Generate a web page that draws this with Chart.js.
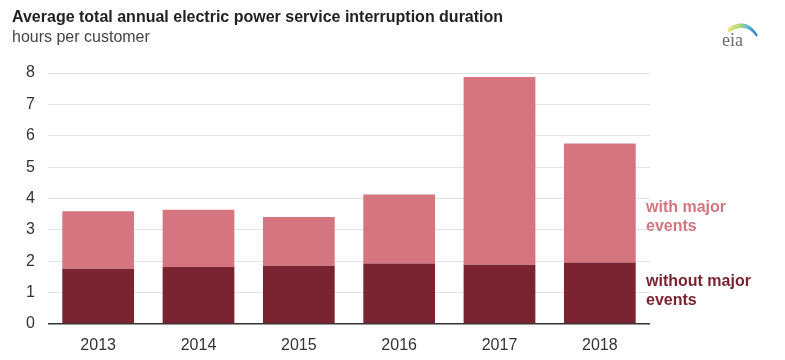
<!DOCTYPE html>
<html>
<head>
<meta charset="utf-8">
<script src="https://cdn.jsdelivr.net/npm/chart.js@4/dist/chart.umd.min.js"></script>
<style>
  body { margin: 0; background: #fff; }
  #wrap { width: 785px; height: 360px; position: relative; }
</style>
</head>
<body>
<div id="wrap"><canvas id="outageChart" width="785" height="360"></canvas></div>
<script>
const years = ["2013", "2014", "2015", "2016", "2017", "2018"];
// hours per customer
const withoutMajor = [1.76, 1.82, 1.86, 1.93, 1.89, 1.96];
const majorExtra = [1.83, 1.82, 1.55, 2.20, 5.98, 3.79]; // total minus "without"
const yTicks = [0, 1, 2, 3, 4, 5, 6, 7, 8];

const darkRed = "#7a2431";
const lightRed = "#d47580";
const font = "'Liberation Sans', Arial, sans-serif";

// title, subtitle, logo and the two side labels
const decorations = {
    id: "decorations",
    afterDraw(chart) {
        const ctx = chart.ctx;
        ctx.save();
        ctx.textBaseline = "alphabetic";
        ctx.textAlign = "left";
        ctx.fillStyle = "#222";
        ctx.font = "bold 16px " + font;
        ctx.fillText("Average total annual electric power service interruption duration", 12, 22);
        ctx.fillStyle = "#444";
        ctx.font = "16px " + font;
        ctx.fillText("hours per customer", 12, 42);

        // eia logo
        ctx.font = "18px 'Liberation Serif', serif";
        ctx.fillStyle = "#6a6a78";
        ctx.fillText("eia", 722, 46);
        const grad = ctx.createLinearGradient(728, 0, 757, 0);
        grad.addColorStop(0, "#ece27a");
        grad.addColorStop(0.4, "#a2cf5e");
        grad.addColorStop(0.7, "#4ab4dc");
        grad.addColorStop(1, "#2a78c0");
        ctx.strokeStyle = grad;
        ctx.lineWidth = 1.3;
        [0, 1.5, 3].forEach((d) => {
            ctx.beginPath();
            ctx.moveTo(728, 29 + d);
            ctx.quadraticCurveTo(746, 17 + d, 757, 35 + d * 0.5);
            ctx.stroke();
        });

        ctx.font = "bold 16px " + font;
        ctx.fillStyle = lightRed;
        ctx.fillText("with major", 646, 212);
        ctx.fillText("events", 646, 231);
        ctx.fillStyle = darkRed;
        ctx.fillText("without major", 646, 286);
        ctx.fillText("events", 646, 305);
        ctx.restore();
    }
};

const ctx = document.getElementById("outageChart").getContext("2d");
const outageChart = new Chart(ctx, {
    type: "bar",
    data: {
        labels: years,
        datasets: [
            {
                label: "without major events",
                data: withoutMajor,
                backgroundColor: darkRed,
                barPercentage: 0.715,
                categoryPercentage: 1.0,
            },
            {
                label: "with major events",
                data: majorExtra,
                backgroundColor: lightRed,
                barPercentage: 0.715,
                categoryPercentage: 1.0,
            },
        ],
    },
    options: {
        responsive: false,
        animation: false,
        layout: {
            padding: { top: 73, right: 135, bottom: 0, left: 0 },
        },
        plugins: {
            legend: { display: false },
            tooltip: { enabled: false },
        },
        scales: {
            x: {
                stacked: true,
                grid: { display: false },
                border: { display: false },
                ticks: { color: "#333", font: { family: font, size: 16 }, padding: 4 },
                afterFit: (scale) => { scale.height = 36; },
            },
            y: {
                stacked: true,
                min: 0,
                max: 8,
                afterBuildTicks: (scale) => { scale.ticks = yTicks.map((v) => ({ value: v })); },
                grid: {
                    color: (c) => (c.tick && c.tick.value === 0 ? "#333" : "#e3e3e3"),
                    lineWidth: (c) => (c.tick && c.tick.value === 0 ? 1.5 : 1),
                    drawTicks: false,
                },
                border: { display: false },
                ticks: { color: "#333", font: { family: font, size: 16 }, padding: 13 },
                afterFit: (scale) => { scale.width = 48; },
            },
        },
    },
    plugins: [decorations],
});
</script>
</body>
</html>
